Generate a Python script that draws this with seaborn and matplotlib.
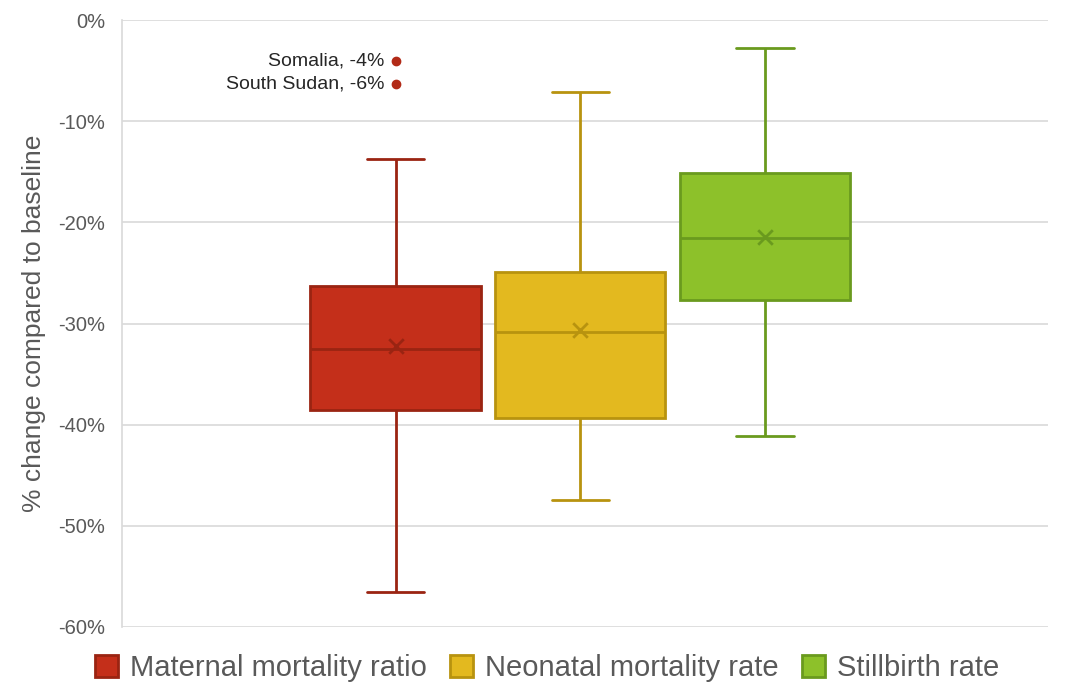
import matplotlib
matplotlib.use("Agg")
import matplotlib.pyplot as plt
from matplotlib.patches import Patch
from matplotlib.ticker import FuncFormatter
from matplotlib import font_manager
import seaborn as sns
import pandas as pd

# ---- data (percent change vs baseline) ----
series = ["Maternal mortality ratio", "Neonatal mortality rate", "Stillbirth rate"]
whisker_low = [-56.5, -47.4, -41.1]
q1 = [-38.5, -39.3, -27.7]
median = [-32.5, -30.8, -21.5]
q3 = [-26.3, -24.9, -15.1]
whisker_high = [-13.7, -7.1, -2.8]
mean = [-32.2, -30.6, -21.4]
outlier_labels = ["Somalia, -4%", "South Sudan, -6%"]
outlier_values = [-4.0, -6.3]
yticks = [0, -10, -20, -30, -40, -50, -60]

fills = ["#C42F1A", "#E3B91F", "#8DC12A"]
edges = ["#9A2412", "#B8930F", "#6A9A1E"]

sns.set_theme(style="white")
plt.rcParams["font.family"] = ["Liberation Sans", "DejaVu Sans"]
names = {f.name for f in font_manager.fontManager.ttflist}
narrow = "Liberation Sans Narrow" if "Liberation Sans Narrow" in names else "Liberation Sans"

rows = []
for s, a, b, c, d, e in zip(series, whisker_low, q1, median, q3, whisker_high):
    for v in (a, b, c, d, e):
        rows.append({"series": s, "value": v})
df = pd.DataFrame(rows)

fig = plt.figure(figsize=(10.68, 6.88), dpi=100)
ax = fig.add_axes([0.1142, 0.0887, 0.867, 0.882])

sns.boxplot(data=df, x="series", y="value", order=series, hue="series",
            hue_order=series, palette=fills, saturation=1, width=0.92,
            whis=(0, 100), showfliers=False, legend=False, ax=ax, linewidth=2)

for i, patch in enumerate(ax.patches[:3]):
    patch.set_edgecolor(edges[i])
    patch.set_linewidth(2)
lines = ax.lines
per = len(lines) // 3
ends = {round(v, 3) for v in list(whisker_low) + list(whisker_high)}
for i in range(3):
    for ln in lines[i * per:(i + 1) * per]:
        ln.set_color(edges[i])
        ln.set_linewidth(2)
        x = list(ln.get_xdata()); y = list(ln.get_ydata())
        if len(x) == 2 and y[0] == y[1] and round(float(y[0]), 3) in ends:
            c = (x[0] + x[1]) / 2
            ln.set_xdata([c - 0.155, c + 0.155])

for i, m in enumerate(mean):
    ax.scatter([i], [m], marker="x", s=110, color=edges[i], linewidths=2, zorder=5)

for lab, v in zip(outlier_labels, outlier_values):
    ax.scatter([0], [v], s=36, color="#B22A17", zorder=5)
    ax.text(-0.06, v, lab, ha="right", va="center", fontsize=14, color="#262626")

ax.set_xlim(-1.48, 3.53)
ax.set_ylim(-60, 0)
ax.set_yticks(yticks)
ax.yaxis.set_major_formatter(FuncFormatter(lambda v, p: f"{int(round(v))}%"))
ax.tick_params(axis="y", labelsize=14.5, colors="#595959", length=0, pad=12)
ax.set_xticks([])
ax.set_xlabel("")
ax.set_ylabel("% change compared to baseline", fontsize=19, color="#595959",
              labelpad=9, family=narrow)
ax.grid(axis="y", color="#D9D9D9", linewidth=1.2)
ax.set_axisbelow(True)
for sp in ["top", "right", "bottom"]:
    ax.spines[sp].set_visible(False)
ax.spines["left"].set_color("#D9D9D9")
ax.spines["left"].set_linewidth(1.2)

handles = [Patch(facecolor=f, edgecolor=e, linewidth=2, label=s)
           for f, e, s in zip(fills, edges, series)]
fig.legend(handles=handles, loc="lower center", bbox_to_anchor=(0.512, -0.03),
           ncol=3, frameon=False, prop={"family": narrow, "size": 21},
           handlelength=0.8, handleheight=0.8, handletextpad=0.4,
           columnspacing=0.8, labelcolor="#595959")

fig.savefig("out.png", dpi=100)
